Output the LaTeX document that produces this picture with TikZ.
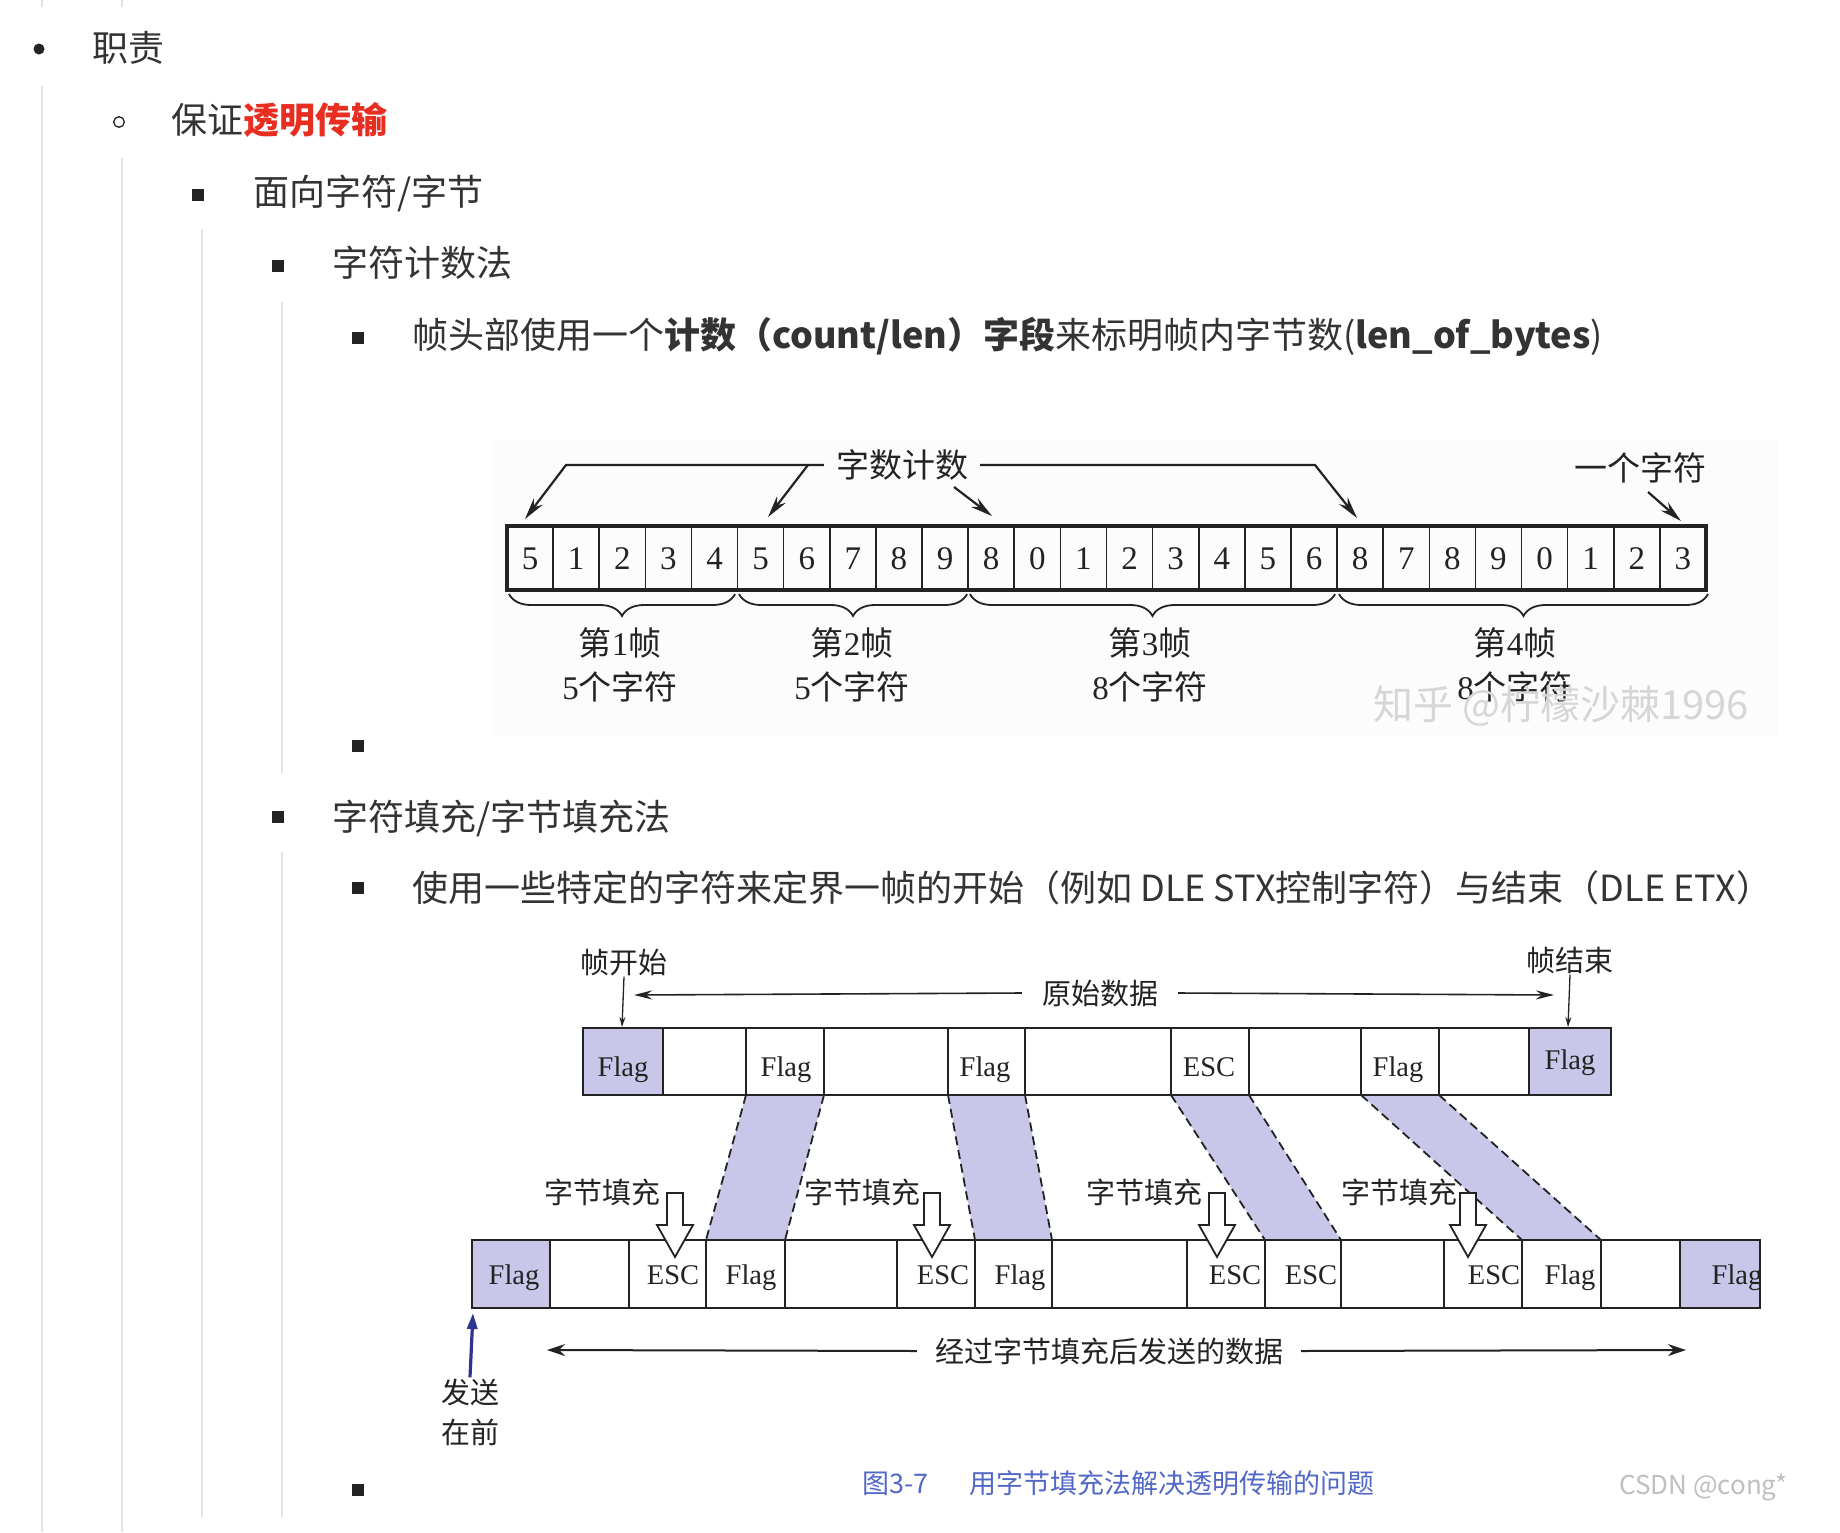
\documentclass[tikz,border=0pt]{standalone}
\usepackage{fontspec}
\setmainfont{Noto Sans CJK SC}
\newfontfamily\tms{Liberation Serif}
\usetikzlibrary{arrows.meta,decorations.pathreplacing}
\definecolor{txt}{RGB}{51,51,51}
\definecolor{hl}{RGB}{232,45,33}
\definecolor{guideC}{RGB}{226,226,226}
\definecolor{lav}{RGB}{201,199,233}
\definecolor{ink}{RGB}{35,35,35}
\definecolor{navy}{RGB}{45,52,140}
\definecolor{capC}{RGB}{82,104,198}
\definecolor{bgA}{RGB}{252,252,252}
\tikzset{
  pg/.style={font=\fontsize{36}{40}\selectfont, text=txt, anchor=west, inner sep=0pt, text height=31.7pt, text depth=4.3pt},
  sqb/.style={fill=ink, minimum size=11.5pt, inner sep=0pt, draw=none},
  guide/.style={draw=guideC, line width=1.5pt},
  dg/.style={font=\tms\fontsize{33}{36}\selectfont, text=ink, inner sep=0pt, text height=22.3pt, text depth=0pt},
  labA/.style={font=\fontsize{33}{36}\selectfont, text=ink, inner sep=0pt, text height=29pt, text depth=4pt},
  labB/.style={font=\fontsize{29}{32}\selectfont, text=ink, inner sep=0pt, text height=25.5pt, text depth=3.5pt},
  fl/.style={font=\tms\fontsize{28.5}{30}\selectfont, text=ink, inner sep=0pt, text height=18.9pt, text depth=0pt},
  arrA/.style={draw=ink, line width=2.2pt, -{Stealth[length=22pt,width=11pt]}},
  arrS/.style={draw=ink, line width=1.3pt, -{Stealth[length=10pt,width=6pt]}},
  arrM/.style={draw=ink, line width=1.6pt, -{Stealth[length=18pt,width=9pt]}},
  arrL/.style={draw=ink, line width=2pt, -{Stealth[length=18pt,width=12pt]}},
  bracestyle/.style={draw=ink, line width=1.8pt, decorate, decoration={brace, mirror, amplitude=22pt, aspect=0.5}},
  rowln/.style={draw=ink, line width=2.2pt},
  cellln/.style={draw=ink, line width=1.6pt},
  dsh/.style={draw=ink, line width=1.8pt, dash pattern=on 9pt off 5pt},
  blk/.style={draw=ink, fill=white, line width=1.8pt, line join=miter},
}
\begin{document}
\begin{tikzpicture}[x=1pt,y=-1pt]
\useasboundingbox (0,0) rectangle (1840,1532);
\fill[white] (0,0) rectangle (1840,1532);

% guide lines
\draw[guide] (42,0) -- (42,7);
\draw[guide] (122,0) -- (122,7);
\draw[guide] (42,86) -- (42,1532);
\draw[guide] (122,158) -- (122,1532);
\draw[guide] (202,229) -- (202,1517);
\draw[guide] (282,302) -- (282,773);
\draw[guide] (282,852) -- (282,1517);

% bullets
\fill[ink] (39,49) circle (5.5);
\draw[ink, line width=1.3pt] (119,122) circle (5.3);
\node[sqb] (b1) at (198,195) {};
\node[sqb] (b2) at (278,266) {};
\node[sqb] (b3) at (358,338) {};
\node[sqb] (b4) at (358,746) {};
\node[sqb] (b5) at (278,817) {};
\node[sqb] (b6) at (358,888) {};
\node[sqb] (b7) at (358,1490) {};

% page text
\node[pg] (t1) at (92,48) {职责};
\node[pg] (t2) at (171,120) {保证\textcolor{hl}{\textbf{透明传输}}};
\node[pg] (t3) at (253,192) {面向字符/字节};
\node[pg] (t4) at (332,263) {字符计数法};
\node[pg] (t5) at (412,335) {帧头部使用一个\textbf{计数（count/len）字段}来标明帧内字节数(\textbf{len\_of\_bytes})};
\node[pg] (t6) at (332,817) {字符填充/字节填充法};
\node[pg] (t7) at (412,888) {使用一些特定的字符来定界一帧的开始（例如 DLE STX控制字符）与结束（DLE ETX）};

% ===== diagram 1 =====
\fill[bgA] (493,440) rectangle (1778,735);
\foreach \v [count=\i from 0] in {5,1,2,3,4,5,6,7,8,9,8,0,1,2,3,4,5,6,8,7,8,9,0,1,2,3}
  \node[dg] (d\i) at ({507+46.115*(\i+0.5)},558) {\v};
\foreach \i in {1,...,25}
  \draw[cellln] ({507+46.115*\i},526) -- ({507+46.115*\i},590);
\draw[draw=ink, line width=3.2pt] (507,526) rectangle (1706,590);

\node[labA, inner xsep=12pt] (cnt) at (902,465) {字数计数};
\coordinate (ta) at (525,519);
\coordinate (tb) at (768,517);
\coordinate (tc) at (992,516);
\coordinate (td) at (1357,518);
\coordinate (te) at (1681,521);
\coordinate (ja) at (808,465);
\coordinate (jc) at (954,487);
\draw[arrA] (cnt.west) -- (566,465) -- (ta);
\draw[arrA] (ja) -- (tb);
\draw[arrA] (jc) -- (tc);
\draw[arrA] (cnt.east) -- (1315,465) -- (td);
\node[labA] (one) at (1640,468) {一个字符};
\coordinate (jo) at (1648,492);
\draw[arrA] (jo) -- (te);

\draw[bracestyle] (509,594) -- (735,594);
\draw[bracestyle] (739,594) -- (967,594);
\draw[bracestyle] (970,594) -- (1335,594);
\draw[bracestyle] (1339,594) -- (1708,594);

\node[labA] (f1a) at (620,643) {第{\tms 1}帧};
\node[labA] (f1b) at (620,687) {{\tms 5}个字符};
\node[labA] (f2a) at (852,643) {第{\tms 2}帧};
\node[labA] (f2b) at (852,687) {{\tms 5}个字符};
\node[labA] (f3a) at (1150,643) {第{\tms 3}帧};
\node[labA] (f3b) at (1150,687) {{\tms 8}个字符};
\node[labA] (f4a) at (1515,643) {第{\tms 4}帧};
\node[labA] (f4b) at (1515,687) {{\tms 8}个字符};

\node[font=\fontsize{40}{42}\selectfont, text=black!16, inner sep=0pt, anchor=west] (wm) at (1373,706) {知乎 @柠檬沙棘1996};

% ===== diagram 2 =====
% parallelograms
\fill[lav] (746,1095) -- (824,1095) -- (785,1240) -- (706,1240) -- cycle;
\fill[lav] (948,1095) -- (1025,1095) -- (1052,1240) -- (975,1240) -- cycle;
\fill[lav] (1171,1095) -- (1249,1095) -- (1341,1240) -- (1265,1240) -- cycle;
\fill[lav] (1361,1095) -- (1439,1095) -- (1601,1240) -- (1522,1240) -- cycle;
\draw[dsh] (746,1095) -- (706,1240);
\draw[dsh] (824,1095) -- (785,1240);
\draw[dsh] (948,1095) -- (975,1240);
\draw[dsh] (1025,1095) -- (1052,1240);
\draw[dsh] (1171,1095) -- (1265,1240);
\draw[dsh] (1249,1095) -- (1341,1240);
\draw[dsh] (1361,1095) -- (1522,1240);
\draw[dsh] (1439,1095) -- (1601,1240);

% top row
\fill[lav] (583,1028) rectangle (663,1095);
\fill[lav] (1529,1028) rectangle (1611,1095);
\foreach \x in {663,746,824,948,1025,1171,1249,1361,1439,1529}
  \draw[cellln] (\x,1028) -- (\x,1095);
\draw[rowln] (583,1028) rectangle (1611,1095);
\node[fl] (u1) at (623,1067) {Flag};
\node[fl] (u3) at (786,1067) {Flag};
\node[fl] (u5) at (985,1067) {Flag};
\node[fl] (u7) at (1209,1067) {ESC};
\node[fl] (u9) at (1398,1067) {Flag};
\node[fl] (u11) at (1570,1060) {Flag};

% bottom row
\fill[lav] (472,1240) rectangle (550,1308);
\fill[lav] (1680,1240) rectangle (1760,1308);
\foreach \x in {550,629,706,785,897,975,1052,1187,1265,1341,1444,1522,1601,1680}
  \draw[cellln] (\x,1240) -- (\x,1308);
\node[fl] (v1) at (514,1275) {Flag};
\node[fl] (v3) at (673,1275) {ESC};
\node[fl] (v4) at (751,1275) {Flag};
\node[fl] (v6) at (943,1275) {ESC};
\node[fl] (v7) at (1020,1275) {Flag};
\node[fl] (v9) at (1235,1275) {ESC};
\node[fl] (v10) at (1311,1275) {ESC};
\node[fl] (v12) at (1494,1275) {ESC};
\node[fl] (v13) at (1570,1275) {Flag};
\begin{scope}
  \clip (1680,1240) rectangle (1760,1308);
  \node[fl] (v15) at (1737,1275) {Flag};
\end{scope}
\draw[rowln] (472,1240) rectangle (1760,1308);

% block arrows
\foreach \c in {675,932,1217,1468}
  \draw[blk] (\c-8,1193) -- (\c+8,1193) -- (\c+8,1225) -- (\c+18,1225) -- (\c,1257) -- (\c-18,1225) -- (\c-8,1225) -- cycle;
\node[labB] (s1) at (602,1192) {字节填充};
\node[labB] (s2) at (862,1192) {字节填充};
\node[labB] (s3) at (1144,1192) {字节填充};
\node[labB] (s4) at (1399,1192) {字节填充};

% top labels
\node[labB] (fs) at (624,962) {帧开始};
\node[labB] (fe) at (1570,960) {帧结束};
\coordinate (fsT) at (622,1027);
\coordinate (feT) at (1568,1027);
\draw[arrS] (fs.south) -- (fsT);
\draw[arrS] (fe.south) -- (feT);
\node[labB, inner xsep=20pt] (orig) at (1100,993) {原始数据};
\coordinate (oL) at (634,995);
\coordinate (oR) at (1554,995);
\draw[arrM] (orig.west) -- (oL);
\draw[arrM] (orig.east) -- (oR);

% bottom labels
\node[labB, inner xsep=18pt] (sent) at (1109,1351) {经过字节填充后发送的数据};
\coordinate (sL) at (547,1350);
\coordinate (sR) at (1686,1350);
\draw[arrL] (sent.west) -- (sL);
\draw[arrL] (sent.east) -- (sR);

\node[labB] (snd) at (470,1392) {发送};
\node[labB] (fst) at (470,1432) {在前};
\coordinate (sndT) at (473,1313);
\draw[draw=navy, line width=3.2pt, -{Triangle[length=16pt,width=10pt]}] (snd.north) -- (sndT);

% caption
\node[font=\fontsize{27}{30}\selectfont, text=capC, inner sep=0pt, anchor=west, text height=23.8pt, text depth=3.2pt] (capa) at (862,1483) {图3-7};
\node[font=\fontsize{27}{30}\selectfont, text=capC, inner sep=0pt, anchor=west, text height=23.8pt, text depth=3.2pt] (capb) at (969,1483) {用字节填充法解决透明传输的问题};
\node[font=\fontsize{26}{30}\selectfont, text=black!25, inner sep=0pt, anchor=west] (csdn) at (1619,1487) {CSDN @cong*};
\end{tikzpicture}
\end{document}
